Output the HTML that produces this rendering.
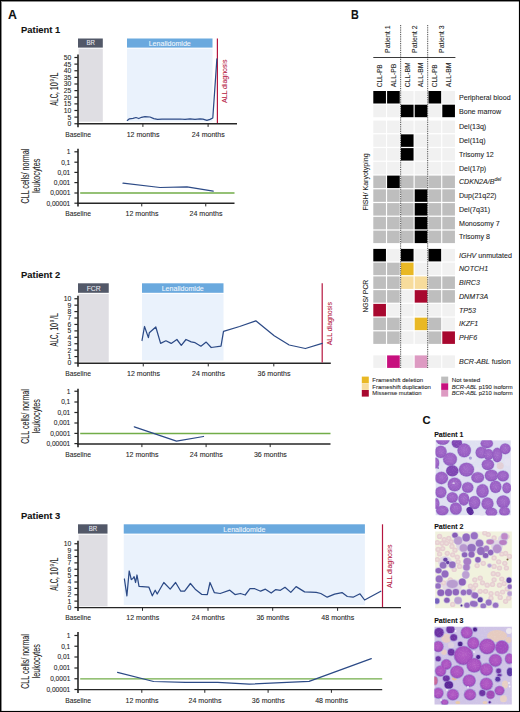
<!DOCTYPE html>
<html><head><meta charset="utf-8"><style>
html,body{margin:0;padding:0;background:#fff;}
body{width:520px;height:712px;overflow:hidden;position:relative;}
svg{font-family:"Liberation Sans", sans-serif;}
#main text{stroke:currentColor;stroke-width:0.08px;}
#main{position:absolute;left:0;top:0;}
.frame{position:absolute;left:0;top:0;width:518px;height:710px;border:1px solid #000;box-shadow:inset 1px 1px 0 rgba(0,0,0,0.45), inset -1px -1px 0 rgba(0,0,0,0.08);pointer-events:none;}
</style></head><body>
<svg id="main" width="520" height="712" viewBox="0 0 520 712" fill="#1e1e1e" color="#1e1e1e">
<text x="8.00" y="18.50" font-size="12.4" fill="#111" color="#111" font-weight="bold" textLength="8.9" lengthAdjust="spacingAndGlyphs">A</text>
<text x="21.10" y="33.10" font-size="9.9" fill="#111" color="#111" font-weight="bold" textLength="39.2" lengthAdjust="spacingAndGlyphs">Patient 1</text>
<rect x="78.00" y="38.50" width="24.80" height="9.10" fill="#525868" />
<text x="90.70" y="45.40" font-size="7" text-anchor="middle" fill="#e8e9f0" color="#e8e9f0" textLength="8.5" lengthAdjust="spacingAndGlyphs">BR</text>
<rect x="78.60" y="48.70" width="24.20" height="73.00" fill="#dfdee3" />
<rect x="127.00" y="38.50" width="85.50" height="9.10" fill="#6aa9de" />
<text x="169.75" y="45.50" font-size="6.9" text-anchor="middle" fill="#f2f7fd" color="#f2f7fd" textLength="42.1" lengthAdjust="spacingAndGlyphs">Lenalidomide</text>
<rect x="127.00" y="48.70" width="85.50" height="72.80" fill="#eaf2fc" />
<line x1="78.00" y1="54.50" x2="78.00" y2="127.20" stroke="#262626" stroke-width="1.6" />
<line x1="74.40" y1="57.50" x2="77.80" y2="57.50" stroke="#262626" stroke-width="1.2" />
<text x="71.30" y="59.90" font-size="6.8" text-anchor="end">50</text>
<line x1="74.40" y1="64.12" x2="77.80" y2="64.12" stroke="#262626" stroke-width="1.2" />
<text x="71.30" y="66.53" font-size="6.8" text-anchor="end">45</text>
<line x1="74.40" y1="70.75" x2="77.80" y2="70.75" stroke="#262626" stroke-width="1.2" />
<text x="71.30" y="73.15" font-size="6.8" text-anchor="end">40</text>
<line x1="74.40" y1="77.38" x2="77.80" y2="77.38" stroke="#262626" stroke-width="1.2" />
<text x="71.30" y="79.78" font-size="6.8" text-anchor="end">35</text>
<line x1="74.40" y1="84.00" x2="77.80" y2="84.00" stroke="#262626" stroke-width="1.2" />
<text x="71.30" y="86.40" font-size="6.8" text-anchor="end">30</text>
<line x1="74.40" y1="90.62" x2="77.80" y2="90.62" stroke="#262626" stroke-width="1.2" />
<text x="71.30" y="93.03" font-size="6.8" text-anchor="end">25</text>
<line x1="74.40" y1="97.25" x2="77.80" y2="97.25" stroke="#262626" stroke-width="1.2" />
<text x="71.30" y="99.65" font-size="6.8" text-anchor="end">20</text>
<line x1="74.40" y1="103.88" x2="77.80" y2="103.88" stroke="#262626" stroke-width="1.2" />
<text x="71.30" y="106.28" font-size="6.8" text-anchor="end">15</text>
<line x1="74.40" y1="110.50" x2="77.80" y2="110.50" stroke="#262626" stroke-width="1.2" />
<text x="71.30" y="112.90" font-size="6.8" text-anchor="end">10</text>
<line x1="74.40" y1="117.12" x2="77.80" y2="117.12" stroke="#262626" stroke-width="1.2" />
<text x="71.30" y="119.53" font-size="6.8" text-anchor="end">5</text>
<line x1="74.40" y1="123.75" x2="77.80" y2="123.75" stroke="#262626" stroke-width="1.2" />
<text x="71.30" y="126.15" font-size="6.8" text-anchor="end">0</text>
<line x1="77.10" y1="123.70" x2="237.00" y2="123.70" stroke="#262626" stroke-width="1.45" />
<line x1="142.90" y1="123.70" x2="142.90" y2="126.90" stroke="#262626" stroke-width="1.0" />
<line x1="208.10" y1="123.70" x2="208.10" y2="126.90" stroke="#262626" stroke-width="1.0" />
<text x="78.10" y="136.50" font-size="7" text-anchor="middle" textLength="25.7" lengthAdjust="spacingAndGlyphs">Baseline</text>
<text x="143.10" y="136.50" font-size="7" text-anchor="middle" textLength="32.9" lengthAdjust="spacingAndGlyphs">12 months</text>
<text x="208.30" y="136.50" font-size="7" text-anchor="middle" textLength="32.9" lengthAdjust="spacingAndGlyphs">24 months</text>
<g transform="translate(58 105.80) rotate(-90)"><text x="0" y="0" font-size="10" textLength="13.6" lengthAdjust="spacingAndGlyphs">ALC,</text><text x="15.6" y="0" font-size="10" textLength="7.8" lengthAdjust="spacingAndGlyphs">10</text><text x="24.2" y="-3.9" font-size="6" textLength="2.4" lengthAdjust="spacingAndGlyphs">9</text><text x="27.4" y="0" font-size="10" textLength="6.0" lengthAdjust="spacingAndGlyphs">/L</text></g>
<line x1="217.40" y1="38.50" x2="217.40" y2="123.10" stroke="#b5163f" stroke-width="1.2" />
<text x="227.10" y="103.00" font-size="7.4" fill="#b5163f" color="#b5163f" textLength="43.4" lengthAdjust="spacingAndGlyphs" transform="rotate(-90 227.10 103.00)">ALL diagnosis</text>
<polyline points="127.3,120.4 129.4,118.8 133.0,118.3 136.0,117.5 138.8,118.5 141.5,117.3 145.0,116.6 150.0,117.0 153.8,118.6 157.5,119.4 162.0,119.2 170.0,119.0 180.0,119.0 185.0,119.4 190.0,118.8 195.0,119.4 200.0,118.9 203.0,119.2 206.9,120.4 210.0,119.4 212.8,118.0 216.9,58.8" fill="none" stroke="#2c4a86" stroke-width="1.25" stroke-linejoin="round" stroke-linecap="round"/>
<line x1="78.00" y1="148.80" x2="78.00" y2="206.60" stroke="#262626" stroke-width="1.6" />
<line x1="74.40" y1="151.80" x2="78.00" y2="151.80" stroke="#262626" stroke-width="1.2" />
<text x="70.30" y="154.10" font-size="6.6" text-anchor="end">1</text>
<line x1="74.40" y1="162.20" x2="78.00" y2="162.20" stroke="#262626" stroke-width="1.2" />
<text x="70.30" y="164.50" font-size="6.6" text-anchor="end">0,1</text>
<line x1="74.40" y1="172.40" x2="78.00" y2="172.40" stroke="#262626" stroke-width="1.2" />
<text x="70.30" y="174.70" font-size="6.6" text-anchor="end">0,01</text>
<line x1="74.40" y1="182.60" x2="78.00" y2="182.60" stroke="#262626" stroke-width="1.2" />
<text x="70.30" y="184.90" font-size="6.6" text-anchor="end">0,001</text>
<line x1="74.40" y1="193.00" x2="78.00" y2="193.00" stroke="#262626" stroke-width="1.2" />
<text x="70.30" y="195.30" font-size="6.6" text-anchor="end">0,0001</text>
<line x1="74.40" y1="203.20" x2="78.00" y2="203.20" stroke="#262626" stroke-width="1.2" />
<text x="70.30" y="205.50" font-size="6.6" text-anchor="end">0,00001</text>
<line x1="80.20" y1="193.00" x2="234.50" y2="193.00" stroke="#72ad48" stroke-width="1.35" />
<line x1="77.10" y1="203.20" x2="234.50" y2="203.20" stroke="#262626" stroke-width="1.45" />
<line x1="141.75" y1="203.20" x2="141.75" y2="206.40" stroke="#262626" stroke-width="1.0" />
<text x="141.95" y="216.30" font-size="7" text-anchor="middle" textLength="32.9" lengthAdjust="spacingAndGlyphs">12 months</text>
<line x1="205.75" y1="203.20" x2="205.75" y2="206.40" stroke="#262626" stroke-width="1.0" />
<text x="205.95" y="216.30" font-size="7" text-anchor="middle" textLength="32.9" lengthAdjust="spacingAndGlyphs">24 months</text>
<text x="78.10" y="216.30" font-size="7" text-anchor="middle" textLength="25.7" lengthAdjust="spacingAndGlyphs">Baseline</text>
<text x="29.40" y="203.40" font-size="10" textLength="54.6" lengthAdjust="spacingAndGlyphs" transform="rotate(-90 29.40 203.40)">CLL cells/ normal</text>
<text x="40.30" y="193.00" font-size="10" textLength="34.3" lengthAdjust="spacingAndGlyphs" transform="rotate(-90 40.30 193.00)">leukocytes</text>
<polyline points="123.0,183.2 160.0,187.5 187.0,186.8 213.2,191.2" fill="none" stroke="#2c4a86" stroke-width="1.25" stroke-linejoin="round" stroke-linecap="round"/>
<text x="21.10" y="278.10" font-size="9.9" fill="#111" color="#111" font-weight="bold" textLength="39.2" lengthAdjust="spacingAndGlyphs">Patient 2</text>
<rect x="78.00" y="283.30" width="30.75" height="9.50" fill="#525868" />
<text x="93.67" y="290.60" font-size="7" text-anchor="middle" fill="#e8e9f0" color="#e8e9f0" textLength="14" lengthAdjust="spacingAndGlyphs">FCR</text>
<rect x="78.60" y="293.90" width="30.15" height="67.90" fill="#dfdee3" />
<rect x="142.00" y="283.30" width="81.50" height="9.50" fill="#6aa9de" />
<text x="182.75" y="290.70" font-size="6.9" text-anchor="middle" fill="#f2f7fd" color="#f2f7fd" textLength="42.1" lengthAdjust="spacingAndGlyphs">Lenalidomide</text>
<rect x="142.00" y="293.90" width="81.50" height="66.60" fill="#eaf2fc" />
<line x1="78.00" y1="295.75" x2="78.00" y2="366.70" stroke="#262626" stroke-width="1.6" />
<line x1="74.40" y1="298.75" x2="77.80" y2="298.75" stroke="#262626" stroke-width="1.2" />
<text x="71.30" y="301.15" font-size="6.8" text-anchor="end">10</text>
<line x1="74.40" y1="305.18" x2="77.80" y2="305.18" stroke="#262626" stroke-width="1.2" />
<text x="71.30" y="307.57" font-size="6.8" text-anchor="end">9</text>
<line x1="74.40" y1="311.60" x2="77.80" y2="311.60" stroke="#262626" stroke-width="1.2" />
<text x="71.30" y="314.00" font-size="6.8" text-anchor="end">8</text>
<line x1="74.40" y1="318.02" x2="77.80" y2="318.02" stroke="#262626" stroke-width="1.2" />
<text x="71.30" y="320.42" font-size="6.8" text-anchor="end">7</text>
<line x1="74.40" y1="324.45" x2="77.80" y2="324.45" stroke="#262626" stroke-width="1.2" />
<text x="71.30" y="326.85" font-size="6.8" text-anchor="end">6</text>
<line x1="74.40" y1="330.88" x2="77.80" y2="330.88" stroke="#262626" stroke-width="1.2" />
<text x="71.30" y="333.27" font-size="6.8" text-anchor="end">5</text>
<line x1="74.40" y1="337.30" x2="77.80" y2="337.30" stroke="#262626" stroke-width="1.2" />
<text x="71.30" y="339.70" font-size="6.8" text-anchor="end">4</text>
<line x1="74.40" y1="343.73" x2="77.80" y2="343.73" stroke="#262626" stroke-width="1.2" />
<text x="71.30" y="346.12" font-size="6.8" text-anchor="end">3</text>
<line x1="74.40" y1="350.15" x2="77.80" y2="350.15" stroke="#262626" stroke-width="1.2" />
<text x="71.30" y="352.55" font-size="6.8" text-anchor="end">2</text>
<line x1="74.40" y1="356.57" x2="77.80" y2="356.57" stroke="#262626" stroke-width="1.2" />
<text x="71.30" y="358.97" font-size="6.8" text-anchor="end">1</text>
<line x1="74.40" y1="363.00" x2="77.80" y2="363.00" stroke="#262626" stroke-width="1.2" />
<text x="71.30" y="365.40" font-size="6.8" text-anchor="end">0</text>
<line x1="77.10" y1="363.20" x2="330.80" y2="363.20" stroke="#262626" stroke-width="1.45" />
<line x1="143.25" y1="363.20" x2="143.25" y2="366.40" stroke="#262626" stroke-width="1.0" />
<line x1="208.25" y1="363.20" x2="208.25" y2="366.40" stroke="#262626" stroke-width="1.0" />
<line x1="273.80" y1="363.20" x2="273.80" y2="366.40" stroke="#262626" stroke-width="1.0" />
<text x="78.10" y="375.60" font-size="7" text-anchor="middle" textLength="25.7" lengthAdjust="spacingAndGlyphs">Baseline</text>
<text x="143.45" y="375.60" font-size="7" text-anchor="middle" textLength="32.9" lengthAdjust="spacingAndGlyphs">12 months</text>
<text x="208.45" y="375.60" font-size="7" text-anchor="middle" textLength="32.9" lengthAdjust="spacingAndGlyphs">24 months</text>
<text x="274.00" y="375.60" font-size="7" text-anchor="middle" textLength="32.9" lengthAdjust="spacingAndGlyphs">36 months</text>
<g transform="translate(58 346.40) rotate(-90)"><text x="0" y="0" font-size="10" textLength="13.6" lengthAdjust="spacingAndGlyphs">ALC,</text><text x="15.6" y="0" font-size="10" textLength="7.8" lengthAdjust="spacingAndGlyphs">10</text><text x="24.2" y="-3.9" font-size="6" textLength="2.4" lengthAdjust="spacingAndGlyphs">9</text><text x="27.4" y="0" font-size="10" textLength="6.0" lengthAdjust="spacingAndGlyphs">/L</text></g>
<line x1="322.20" y1="283.30" x2="322.20" y2="362.60" stroke="#b5163f" stroke-width="1.2" />
<text x="331.90" y="345.30" font-size="7.4" fill="#b5163f" color="#b5163f" textLength="43.4" lengthAdjust="spacingAndGlyphs" transform="rotate(-90 331.90 345.30)">ALL diagnosis</text>
<polyline points="142.0,340.5 144.5,326.5 148.4,337.6 149.3,332.8 155.8,327.0 160.6,343.4 165.9,340.8 171.2,343.4 176.9,339.5 181.3,345.3 186.0,339.5 191.2,341.9 195.1,342.7 200.9,346.2 206.2,342.1 211.2,347.5 221.0,346.2 223.5,331.3 239.6,326.5 255.8,320.8 274.2,335.8 289.2,345.0 305.4,348.5 322.2,343.4" fill="none" stroke="#2c4a86" stroke-width="1.25" stroke-linejoin="round" stroke-linecap="round"/>
<line x1="78.00" y1="388.75" x2="78.00" y2="447.30" stroke="#262626" stroke-width="1.6" />
<line x1="74.40" y1="391.25" x2="78.00" y2="391.25" stroke="#262626" stroke-width="1.2" />
<text x="70.30" y="393.55" font-size="6.6" text-anchor="end">1</text>
<line x1="74.40" y1="402.00" x2="78.00" y2="402.00" stroke="#262626" stroke-width="1.2" />
<text x="70.30" y="404.30" font-size="6.6" text-anchor="end">0,1</text>
<line x1="74.40" y1="412.50" x2="78.00" y2="412.50" stroke="#262626" stroke-width="1.2" />
<text x="70.30" y="414.80" font-size="6.6" text-anchor="end">0,01</text>
<line x1="74.40" y1="423.00" x2="78.00" y2="423.00" stroke="#262626" stroke-width="1.2" />
<text x="70.30" y="425.30" font-size="6.6" text-anchor="end">0,001</text>
<line x1="74.40" y1="433.40" x2="78.00" y2="433.40" stroke="#262626" stroke-width="1.2" />
<text x="70.30" y="435.70" font-size="6.6" text-anchor="end">0,0001</text>
<line x1="74.40" y1="443.60" x2="78.00" y2="443.60" stroke="#262626" stroke-width="1.2" />
<text x="70.30" y="445.90" font-size="6.6" text-anchor="end">0,00001</text>
<line x1="80.20" y1="433.50" x2="330.50" y2="433.50" stroke="#72ad48" stroke-width="1.35" />
<line x1="77.10" y1="443.90" x2="330.50" y2="443.90" stroke="#262626" stroke-width="1.45" />
<line x1="141.90" y1="443.90" x2="141.90" y2="447.10" stroke="#262626" stroke-width="1.0" />
<text x="142.10" y="456.50" font-size="7" text-anchor="middle" textLength="32.9" lengthAdjust="spacingAndGlyphs">12 months</text>
<line x1="206.10" y1="443.90" x2="206.10" y2="447.10" stroke="#262626" stroke-width="1.0" />
<text x="206.30" y="456.50" font-size="7" text-anchor="middle" textLength="32.9" lengthAdjust="spacingAndGlyphs">24 months</text>
<line x1="270.20" y1="443.90" x2="270.20" y2="447.10" stroke="#262626" stroke-width="1.0" />
<text x="270.40" y="456.50" font-size="7" text-anchor="middle" textLength="32.9" lengthAdjust="spacingAndGlyphs">36 months</text>
<text x="78.10" y="456.50" font-size="7" text-anchor="middle" textLength="25.7" lengthAdjust="spacingAndGlyphs">Baseline</text>
<text x="29.40" y="443.75" font-size="10" textLength="54.6" lengthAdjust="spacingAndGlyphs" transform="rotate(-90 29.40 443.75)">CLL cells/ normal</text>
<text x="40.30" y="433.35" font-size="10" textLength="34.3" lengthAdjust="spacingAndGlyphs" transform="rotate(-90 40.30 433.35)">leukocytes</text>
<polyline points="134.3,426.8 176.5,441.2 203.5,436.5" fill="none" stroke="#2c4a86" stroke-width="1.25" stroke-linejoin="round" stroke-linecap="round"/>
<text x="21.10" y="518.60" font-size="9.9" fill="#111" color="#111" font-weight="bold" textLength="39.2" lengthAdjust="spacingAndGlyphs">Patient 3</text>
<rect x="78.00" y="524.30" width="29.50" height="9.30" fill="#525868" />
<text x="93.05" y="531.40" font-size="7" text-anchor="middle" fill="#e8e9f0" color="#e8e9f0" textLength="8.5" lengthAdjust="spacingAndGlyphs">BR</text>
<rect x="78.60" y="534.70" width="28.90" height="71.60" fill="#dfdee3" />
<rect x="123.75" y="524.30" width="241.15" height="9.30" fill="#6aa9de" />
<text x="244.32" y="531.50" font-size="6.9" text-anchor="middle" fill="#f2f7fd" color="#f2f7fd" textLength="42.1" lengthAdjust="spacingAndGlyphs">Lenalidomide</text>
<rect x="123.75" y="534.70" width="241.15" height="70.30" fill="#eaf2fc" />
<line x1="78.00" y1="540.75" x2="78.00" y2="611.10" stroke="#262626" stroke-width="1.6" />
<line x1="74.40" y1="543.75" x2="77.80" y2="543.75" stroke="#262626" stroke-width="1.2" />
<text x="71.30" y="546.15" font-size="6.8" text-anchor="end">10</text>
<line x1="74.40" y1="550.12" x2="77.80" y2="550.12" stroke="#262626" stroke-width="1.2" />
<text x="71.30" y="552.52" font-size="6.8" text-anchor="end">9</text>
<line x1="74.40" y1="556.50" x2="77.80" y2="556.50" stroke="#262626" stroke-width="1.2" />
<text x="71.30" y="558.90" font-size="6.8" text-anchor="end">8</text>
<line x1="74.40" y1="562.88" x2="77.80" y2="562.88" stroke="#262626" stroke-width="1.2" />
<text x="71.30" y="565.27" font-size="6.8" text-anchor="end">7</text>
<line x1="74.40" y1="569.25" x2="77.80" y2="569.25" stroke="#262626" stroke-width="1.2" />
<text x="71.30" y="571.65" font-size="6.8" text-anchor="end">6</text>
<line x1="74.40" y1="575.62" x2="77.80" y2="575.62" stroke="#262626" stroke-width="1.2" />
<text x="71.30" y="578.02" font-size="6.8" text-anchor="end">5</text>
<line x1="74.40" y1="582.00" x2="77.80" y2="582.00" stroke="#262626" stroke-width="1.2" />
<text x="71.30" y="584.40" font-size="6.8" text-anchor="end">4</text>
<line x1="74.40" y1="588.38" x2="77.80" y2="588.38" stroke="#262626" stroke-width="1.2" />
<text x="71.30" y="590.77" font-size="6.8" text-anchor="end">3</text>
<line x1="74.40" y1="594.75" x2="77.80" y2="594.75" stroke="#262626" stroke-width="1.2" />
<text x="71.30" y="597.15" font-size="6.8" text-anchor="end">2</text>
<line x1="74.40" y1="601.12" x2="77.80" y2="601.12" stroke="#262626" stroke-width="1.2" />
<text x="71.30" y="603.52" font-size="6.8" text-anchor="end">1</text>
<line x1="74.40" y1="607.50" x2="77.80" y2="607.50" stroke="#262626" stroke-width="1.2" />
<text x="71.30" y="609.90" font-size="6.8" text-anchor="end">0</text>
<line x1="77.10" y1="607.60" x2="401.00" y2="607.60" stroke="#262626" stroke-width="1.45" />
<line x1="142.50" y1="607.60" x2="142.50" y2="610.80" stroke="#262626" stroke-width="1.0" />
<line x1="208.00" y1="607.60" x2="208.00" y2="610.80" stroke="#262626" stroke-width="1.0" />
<line x1="272.70" y1="607.60" x2="272.70" y2="610.80" stroke="#262626" stroke-width="1.0" />
<line x1="337.60" y1="607.60" x2="337.60" y2="610.80" stroke="#262626" stroke-width="1.0" />
<text x="78.10" y="620.00" font-size="7" text-anchor="middle" textLength="25.7" lengthAdjust="spacingAndGlyphs">Baseline</text>
<text x="142.70" y="620.00" font-size="7" text-anchor="middle" textLength="32.9" lengthAdjust="spacingAndGlyphs">12 months</text>
<text x="208.20" y="620.00" font-size="7" text-anchor="middle" textLength="32.9" lengthAdjust="spacingAndGlyphs">24 months</text>
<text x="272.90" y="620.00" font-size="7" text-anchor="middle" textLength="32.9" lengthAdjust="spacingAndGlyphs">36 months</text>
<text x="337.80" y="620.00" font-size="7" text-anchor="middle" textLength="32.9" lengthAdjust="spacingAndGlyphs">48 months</text>
<g transform="translate(58 590.80) rotate(-90)"><text x="0" y="0" font-size="10" textLength="13.6" lengthAdjust="spacingAndGlyphs">ALC,</text><text x="15.6" y="0" font-size="10" textLength="7.8" lengthAdjust="spacingAndGlyphs">10</text><text x="24.2" y="-3.9" font-size="6" textLength="2.4" lengthAdjust="spacingAndGlyphs">9</text><text x="27.4" y="0" font-size="10" textLength="6.0" lengthAdjust="spacingAndGlyphs">/L</text></g>
<line x1="382.50" y1="524.30" x2="382.50" y2="607.00" stroke="#b5163f" stroke-width="1.2" />
<text x="392.20" y="588.00" font-size="7.4" fill="#b5163f" color="#b5163f" textLength="43.4" lengthAdjust="spacingAndGlyphs" transform="rotate(-90 392.20 588.00)">ALL diagnosis</text>
<polyline points="124.4,579.0 126.9,595.8 129.2,571.0 131.3,579.6 132.9,578.5 134.1,576.7 135.6,582.5 137.0,575.0 139.0,586.3 148.8,587.1 152.3,595.8 155.2,590.2 157.2,594.0 163.8,582.5 170.2,589.1 175.6,582.5 180.8,591.2 184.6,591.2 190.4,583.5 195.2,589.2 201.9,594.4 207.3,594.6 210.0,582.5 214.4,592.7 220.2,593.5 229.8,590.2 235.0,594.6 240.4,593.5 245.2,595.0 250.0,588.7 254.8,588.7 260.6,591.2 265.4,589.2 271.2,593.1 275.8,589.6 280.4,590.3 285.0,587.3 290.8,592.4 296.1,586.6 304.6,591.9 316.2,592.4 320.8,593.5 327.2,597.2 334.6,594.2 342.0,592.6 347.3,596.5 353.1,597.2 360.0,593.8 364.6,600.0 380.8,591.2" fill="none" stroke="#2c4a86" stroke-width="1.25" stroke-linejoin="round" stroke-linecap="round"/>
<line x1="78.00" y1="632.00" x2="78.00" y2="693.00" stroke="#262626" stroke-width="1.6" />
<line x1="74.40" y1="635.50" x2="78.00" y2="635.50" stroke="#262626" stroke-width="1.2" />
<text x="70.30" y="637.80" font-size="6.6" text-anchor="end">1</text>
<line x1="74.40" y1="646.25" x2="78.00" y2="646.25" stroke="#262626" stroke-width="1.2" />
<text x="70.30" y="648.55" font-size="6.6" text-anchor="end">0,1</text>
<line x1="74.40" y1="657.00" x2="78.00" y2="657.00" stroke="#262626" stroke-width="1.2" />
<text x="70.30" y="659.30" font-size="6.6" text-anchor="end">0,01</text>
<line x1="74.40" y1="668.00" x2="78.00" y2="668.00" stroke="#262626" stroke-width="1.2" />
<text x="70.30" y="670.30" font-size="6.6" text-anchor="end">0,001</text>
<line x1="74.40" y1="678.75" x2="78.00" y2="678.75" stroke="#262626" stroke-width="1.2" />
<text x="70.30" y="681.05" font-size="6.6" text-anchor="end">0,0001</text>
<line x1="74.40" y1="689.50" x2="78.00" y2="689.50" stroke="#262626" stroke-width="1.2" />
<text x="70.30" y="691.80" font-size="6.6" text-anchor="end">0,00001</text>
<line x1="80.20" y1="678.80" x2="382.20" y2="678.80" stroke="#72ad48" stroke-width="1.35" />
<line x1="77.10" y1="689.60" x2="382.20" y2="689.60" stroke="#262626" stroke-width="1.45" />
<line x1="141.80" y1="689.60" x2="141.80" y2="692.80" stroke="#262626" stroke-width="1.0" />
<text x="142.00" y="702.50" font-size="7" text-anchor="middle" textLength="32.9" lengthAdjust="spacingAndGlyphs">12 months</text>
<line x1="204.80" y1="689.60" x2="204.80" y2="692.80" stroke="#262626" stroke-width="1.0" />
<text x="205.00" y="702.50" font-size="7" text-anchor="middle" textLength="32.9" lengthAdjust="spacingAndGlyphs">24 months</text>
<line x1="268.10" y1="689.60" x2="268.10" y2="692.80" stroke="#262626" stroke-width="1.0" />
<text x="268.30" y="702.50" font-size="7" text-anchor="middle" textLength="32.9" lengthAdjust="spacingAndGlyphs">36 months</text>
<line x1="331.40" y1="689.60" x2="331.40" y2="692.80" stroke="#262626" stroke-width="1.0" />
<text x="331.60" y="702.50" font-size="7" text-anchor="middle" textLength="32.9" lengthAdjust="spacingAndGlyphs">48 months</text>
<text x="78.10" y="702.50" font-size="7" text-anchor="middle" textLength="25.7" lengthAdjust="spacingAndGlyphs">Baseline</text>
<text x="29.40" y="688.75" font-size="10" textLength="54.6" lengthAdjust="spacingAndGlyphs" transform="rotate(-90 29.40 688.75)">CLL cells/ normal</text>
<text x="40.30" y="678.35" font-size="10" textLength="34.3" lengthAdjust="spacingAndGlyphs" transform="rotate(-90 40.30 678.35)">leukocytes</text>
<polyline points="117.5,672.3 153.6,681.5 185.4,682.3 217.7,682.3 249.2,684.2 309.1,681.3 371.3,658.7" fill="none" stroke="#2c4a86" stroke-width="1.25" stroke-linejoin="round" stroke-linecap="round"/>
<text x="351.10" y="18.50" font-size="12.4" fill="#111" color="#111" font-weight="bold" textLength="7.8" lengthAdjust="spacingAndGlyphs">B</text>
<text x="389.80" y="52.90" font-size="7.5" textLength="27.4" lengthAdjust="spacingAndGlyphs" transform="rotate(-90 389.80 52.90)">Patient 1</text>
<text x="416.90" y="52.90" font-size="7.5" textLength="27.4" lengthAdjust="spacingAndGlyphs" transform="rotate(-90 416.90 52.90)">Patient 2</text>
<text x="444.00" y="52.90" font-size="7.5" textLength="27.4" lengthAdjust="spacingAndGlyphs" transform="rotate(-90 444.00 52.90)">Patient 3</text>
<line x1="373.30" y1="57.50" x2="455.40" y2="57.50" stroke="#3a3a3a" stroke-width="1.1" />
<text x="382.00" y="87.20" font-size="7.0" textLength="22.8" lengthAdjust="spacingAndGlyphs" transform="rotate(-90 382.00 87.20)">CLL-PB</text>
<text x="395.80" y="87.20" font-size="7.0" textLength="23.6" lengthAdjust="spacingAndGlyphs" transform="rotate(-90 395.80 87.20)">ALL-PB</text>
<text x="409.60" y="87.20" font-size="7.0" textLength="24.8" lengthAdjust="spacingAndGlyphs" transform="rotate(-90 409.60 87.20)">CLL-BM</text>
<text x="423.40" y="87.20" font-size="7.0" textLength="24.8" lengthAdjust="spacingAndGlyphs" transform="rotate(-90 423.40 87.20)">ALL-BM</text>
<text x="437.20" y="87.20" font-size="7.0" textLength="22.8" lengthAdjust="spacingAndGlyphs" transform="rotate(-90 437.20 87.20)">CLL-PB</text>
<text x="451.00" y="87.20" font-size="7.0" textLength="24.8" lengthAdjust="spacingAndGlyphs" transform="rotate(-90 451.00 87.20)">ALL-BM</text>
<rect x="373.30" y="91.00" width="12.65" height="12.50" fill="#000" />
<rect x="387.10" y="91.00" width="12.65" height="12.50" fill="#000" />
<rect x="400.90" y="91.00" width="12.65" height="12.50" fill="#f1f1f1" />
<rect x="414.70" y="91.00" width="12.65" height="12.50" fill="#f1f1f1" />
<rect x="428.50" y="91.00" width="12.65" height="12.50" fill="#000" />
<rect x="442.30" y="91.00" width="12.65" height="12.50" fill="#f1f1f1" />
<text x="459" y="99.80" font-size="7.1">Peripheral blood</text>
<rect x="373.30" y="104.70" width="12.65" height="12.50" fill="#f1f1f1" />
<rect x="387.10" y="104.70" width="12.65" height="12.50" fill="#f1f1f1" />
<rect x="400.90" y="104.70" width="12.65" height="12.50" fill="#000" />
<rect x="414.70" y="104.70" width="12.65" height="12.50" fill="#000" />
<rect x="428.50" y="104.70" width="12.65" height="12.50" fill="#f1f1f1" />
<rect x="442.30" y="104.70" width="12.65" height="12.50" fill="#000" />
<text x="459" y="113.50" font-size="7.1">Bone marrow</text>
<rect x="373.30" y="120.60" width="12.65" height="12.50" fill="#f1f1f1" />
<rect x="387.10" y="120.60" width="12.65" height="12.50" fill="#f1f1f1" />
<rect x="400.90" y="120.60" width="12.65" height="12.50" fill="#f1f1f1" />
<rect x="414.70" y="120.60" width="12.65" height="12.50" fill="#f1f1f1" />
<rect x="428.50" y="120.60" width="12.65" height="12.50" fill="#f1f1f1" />
<rect x="442.30" y="120.60" width="12.65" height="12.50" fill="#f1f1f1" />
<text x="459" y="129.40" font-size="7.1">Del(13q)</text>
<rect x="373.30" y="134.35" width="12.65" height="12.50" fill="#f1f1f1" />
<rect x="387.10" y="134.35" width="12.65" height="12.50" fill="#f1f1f1" />
<rect x="400.90" y="134.35" width="12.65" height="12.50" fill="#000" />
<rect x="414.70" y="134.35" width="12.65" height="12.50" fill="#f1f1f1" />
<rect x="428.50" y="134.35" width="12.65" height="12.50" fill="#f1f1f1" />
<rect x="442.30" y="134.35" width="12.65" height="12.50" fill="#f1f1f1" />
<text x="459" y="143.15" font-size="7.1">Del(11q)</text>
<rect x="373.30" y="148.10" width="12.65" height="12.50" fill="#f1f1f1" />
<rect x="387.10" y="148.10" width="12.65" height="12.50" fill="#f1f1f1" />
<rect x="400.90" y="148.10" width="12.65" height="12.50" fill="#000" />
<rect x="414.70" y="148.10" width="12.65" height="12.50" fill="#f1f1f1" />
<rect x="428.50" y="148.10" width="12.65" height="12.50" fill="#f1f1f1" />
<rect x="442.30" y="148.10" width="12.65" height="12.50" fill="#f1f1f1" />
<text x="459" y="156.90" font-size="7.1">Trisomy 12</text>
<rect x="373.30" y="161.85" width="12.65" height="12.50" fill="#f1f1f1" />
<rect x="387.10" y="161.85" width="12.65" height="12.50" fill="#f1f1f1" />
<rect x="400.90" y="161.85" width="12.65" height="12.50" fill="#f1f1f1" />
<rect x="414.70" y="161.85" width="12.65" height="12.50" fill="#f1f1f1" />
<rect x="428.50" y="161.85" width="12.65" height="12.50" fill="#f1f1f1" />
<rect x="442.30" y="161.85" width="12.65" height="12.50" fill="#f1f1f1" />
<text x="459" y="170.65" font-size="7.1">Del(17p)</text>
<rect x="373.30" y="175.60" width="12.65" height="12.50" fill="#bebebe" />
<rect x="387.10" y="175.60" width="12.65" height="12.50" fill="#000" />
<rect x="400.90" y="175.60" width="12.65" height="12.50" fill="#bebebe" />
<rect x="414.70" y="175.60" width="12.65" height="12.50" fill="#bebebe" />
<rect x="428.50" y="175.60" width="12.65" height="12.50" fill="#bebebe" />
<rect x="442.30" y="175.60" width="12.65" height="12.50" fill="#bebebe" />
<text x="459" y="184.40" font-size="7.1"><tspan font-style="italic">CDKN2A/B</tspan><tspan font-size="5" dy="-3.6" font-style="italic">del</tspan></text>
<rect x="373.30" y="189.35" width="12.65" height="12.50" fill="#bebebe" />
<rect x="387.10" y="189.35" width="12.65" height="12.50" fill="#bebebe" />
<rect x="400.90" y="189.35" width="12.65" height="12.50" fill="#bebebe" />
<rect x="414.70" y="189.35" width="12.65" height="12.50" fill="#000" />
<rect x="428.50" y="189.35" width="12.65" height="12.50" fill="#bebebe" />
<rect x="442.30" y="189.35" width="12.65" height="12.50" fill="#bebebe" />
<text x="459" y="198.15" font-size="7.1">Dup(21q22)</text>
<rect x="373.30" y="203.10" width="12.65" height="12.50" fill="#bebebe" />
<rect x="387.10" y="203.10" width="12.65" height="12.50" fill="#bebebe" />
<rect x="400.90" y="203.10" width="12.65" height="12.50" fill="#bebebe" />
<rect x="414.70" y="203.10" width="12.65" height="12.50" fill="#000" />
<rect x="428.50" y="203.10" width="12.65" height="12.50" fill="#bebebe" />
<rect x="442.30" y="203.10" width="12.65" height="12.50" fill="#bebebe" />
<text x="459" y="211.90" font-size="7.1">Del(7q31)</text>
<rect x="373.30" y="216.85" width="12.65" height="12.50" fill="#bebebe" />
<rect x="387.10" y="216.85" width="12.65" height="12.50" fill="#bebebe" />
<rect x="400.90" y="216.85" width="12.65" height="12.50" fill="#bebebe" />
<rect x="414.70" y="216.85" width="12.65" height="12.50" fill="#000" />
<rect x="428.50" y="216.85" width="12.65" height="12.50" fill="#bebebe" />
<rect x="442.30" y="216.85" width="12.65" height="12.50" fill="#bebebe" />
<text x="459" y="225.65" font-size="7.1">Monosomy 7</text>
<rect x="373.30" y="230.60" width="12.65" height="12.50" fill="#bebebe" />
<rect x="387.10" y="230.60" width="12.65" height="12.50" fill="#bebebe" />
<rect x="400.90" y="230.60" width="12.65" height="12.50" fill="#bebebe" />
<rect x="414.70" y="230.60" width="12.65" height="12.50" fill="#000" />
<rect x="428.50" y="230.60" width="12.65" height="12.50" fill="#bebebe" />
<rect x="442.30" y="230.60" width="12.65" height="12.50" fill="#bebebe" />
<text x="459" y="239.40" font-size="7.1">Trisomy 8</text>
<rect x="373.30" y="248.90" width="12.65" height="12.50" fill="#000" />
<rect x="387.10" y="248.90" width="12.65" height="12.50" fill="#f1f1f1" />
<rect x="400.90" y="248.90" width="12.65" height="12.50" fill="#000" />
<rect x="414.70" y="248.90" width="12.65" height="12.50" fill="#f1f1f1" />
<rect x="428.50" y="248.90" width="12.65" height="12.50" fill="#000" />
<rect x="442.30" y="248.90" width="12.65" height="12.50" fill="#f1f1f1" />
<text x="459" y="257.70" font-size="7.1"><tspan font-style="italic">IGHV</tspan> unmutated</text>
<rect x="373.30" y="262.65" width="12.65" height="12.50" fill="#bebebe" />
<rect x="387.10" y="262.65" width="12.65" height="12.50" fill="#bebebe" />
<rect x="400.90" y="262.65" width="12.65" height="12.50" fill="#e9b824" />
<rect x="414.70" y="262.65" width="12.65" height="12.50" fill="#f1f1f1" />
<rect x="428.50" y="262.65" width="12.65" height="12.50" fill="#f1f1f1" />
<rect x="442.30" y="262.65" width="12.65" height="12.50" fill="#f1f1f1" />
<text x="459" y="271.45" font-size="7.1"><tspan font-style="italic">NOTCH1</tspan></text>
<rect x="373.30" y="276.40" width="12.65" height="12.50" fill="#bebebe" />
<rect x="387.10" y="276.40" width="12.65" height="12.50" fill="#bebebe" />
<rect x="400.90" y="276.40" width="12.65" height="12.50" fill="#f7dc9c" />
<rect x="414.70" y="276.40" width="12.65" height="12.50" fill="#f7dc9c" />
<rect x="428.50" y="276.40" width="12.65" height="12.50" fill="#bebebe" />
<rect x="442.30" y="276.40" width="12.65" height="12.50" fill="#bebebe" />
<text x="459" y="285.20" font-size="7.1"><tspan font-style="italic">BIRC3</tspan></text>
<rect x="373.30" y="290.15" width="12.65" height="12.50" fill="#bebebe" />
<rect x="387.10" y="290.15" width="12.65" height="12.50" fill="#bebebe" />
<rect x="400.90" y="290.15" width="12.65" height="12.50" fill="#f1f1f1" />
<rect x="414.70" y="290.15" width="12.65" height="12.50" fill="#a8082f" />
<rect x="428.50" y="290.15" width="12.65" height="12.50" fill="#bebebe" />
<rect x="442.30" y="290.15" width="12.65" height="12.50" fill="#bebebe" />
<text x="459" y="298.95" font-size="7.1"><tspan font-style="italic">DNMT3A</tspan></text>
<rect x="373.30" y="303.90" width="12.65" height="12.50" fill="#a8082f" />
<rect x="387.10" y="303.90" width="12.65" height="12.50" fill="#f1f1f1" />
<rect x="400.90" y="303.90" width="12.65" height="12.50" fill="#f1f1f1" />
<rect x="414.70" y="303.90" width="12.65" height="12.50" fill="#f1f1f1" />
<rect x="428.50" y="303.90" width="12.65" height="12.50" fill="#f1f1f1" />
<rect x="442.30" y="303.90" width="12.65" height="12.50" fill="#f1f1f1" />
<text x="459" y="312.70" font-size="7.1"><tspan font-style="italic">TP53</tspan></text>
<rect x="373.30" y="317.65" width="12.65" height="12.50" fill="#bebebe" />
<rect x="387.10" y="317.65" width="12.65" height="12.50" fill="#bebebe" />
<rect x="400.90" y="317.65" width="12.65" height="12.50" fill="#f1f1f1" />
<rect x="414.70" y="317.65" width="12.65" height="12.50" fill="#e9b824" />
<rect x="428.50" y="317.65" width="12.65" height="12.50" fill="#bebebe" />
<rect x="442.30" y="317.65" width="12.65" height="12.50" fill="#f1f1f1" />
<text x="459" y="326.45" font-size="7.1"><tspan font-style="italic">IKZF1</tspan></text>
<rect x="373.30" y="331.40" width="12.65" height="12.50" fill="#bebebe" />
<rect x="387.10" y="331.40" width="12.65" height="12.50" fill="#bebebe" />
<rect x="400.90" y="331.40" width="12.65" height="12.50" fill="#f1f1f1" />
<rect x="414.70" y="331.40" width="12.65" height="12.50" fill="#f1f1f1" />
<rect x="428.50" y="331.40" width="12.65" height="12.50" fill="#bebebe" />
<rect x="442.30" y="331.40" width="12.65" height="12.50" fill="#a8082f" />
<text x="459" y="340.20" font-size="7.1"><tspan font-style="italic">PHF6</tspan></text>
<rect x="373.30" y="355.40" width="12.65" height="12.50" fill="#f1f1f1" />
<rect x="387.10" y="355.40" width="12.65" height="12.50" fill="#c70f7e" />
<rect x="400.90" y="355.40" width="12.65" height="12.50" fill="#f1f1f1" />
<rect x="414.70" y="355.40" width="12.65" height="12.50" fill="#dd9ac2" />
<rect x="428.50" y="355.40" width="12.65" height="12.50" fill="#f1f1f1" />
<rect x="442.30" y="355.40" width="12.65" height="12.50" fill="#f1f1f1" />
<text x="459" y="364.20" font-size="7.1"><tspan font-style="italic">BCR-ABL</tspan> fusion</text>
<line x1="400.65" y1="25.00" x2="400.65" y2="368.30" stroke="#222" stroke-width="0.9" stroke-dasharray="0.9 0.9"/>
<line x1="427.70" y1="25.00" x2="427.70" y2="368.30" stroke="#222" stroke-width="0.9" stroke-dasharray="0.9 0.9"/>
<text x="368.30" y="210.40" font-size="7" textLength="57" lengthAdjust="spacingAndGlyphs" transform="rotate(-90 368.30 210.40)">FISH/ Karyotyping</text>
<text x="368.30" y="312.60" font-size="7" textLength="32.8" lengthAdjust="spacingAndGlyphs" transform="rotate(-90 368.30 312.60)">NGS/ PCR</text>
<rect x="361.80" y="376.60" width="7.00" height="6.60" fill="#e9b824" />
<text x="372.30" y="382.00" font-size="6.2" textLength="50.8" lengthAdjust="spacingAndGlyphs">Frameshift deletion</text>
<rect x="361.80" y="383.30" width="7.00" height="6.60" fill="#f7dc9c" />
<text x="372.30" y="388.70" font-size="6.2" textLength="58.5" lengthAdjust="spacingAndGlyphs">Frameshift duplication</text>
<rect x="361.80" y="390.00" width="7.00" height="6.60" fill="#a8082f" />
<text x="372.30" y="395.40" font-size="6.2" textLength="49.2" lengthAdjust="spacingAndGlyphs">Missense mutation</text>
<rect x="441.20" y="376.60" width="7.00" height="6.60" fill="#bebebe" />
<text x="451.70" y="382.00" font-size="6.2" textLength="28.7" lengthAdjust="spacingAndGlyphs">Not tested</text>
<rect x="441.20" y="383.30" width="7.00" height="6.60" fill="#c70f7e" />
<text x="451.70" y="388.70" font-size="6.2" textLength="61" lengthAdjust="spacingAndGlyphs"><tspan font-style="italic">BCR-ABL</tspan> p190 isoform</text>
<rect x="441.20" y="390.00" width="7.00" height="6.60" fill="#dd9ac2" />
<text x="451.70" y="395.40" font-size="6.2" textLength="61" lengthAdjust="spacingAndGlyphs"><tspan font-style="italic">BCR-ABL</tspan> p210 isoform</text>
<text x="422.60" y="424.20" font-size="11.8" fill="#111" color="#111" font-weight="bold" textLength="8.1" lengthAdjust="spacingAndGlyphs">C</text>
<text x="434.20" y="436.90" font-size="6.9" fill="#111" color="#111" font-weight="bold" textLength="29.3" lengthAdjust="spacingAndGlyphs">Patient 1</text>
<svg x="435.4" y="440.2" width="75.5" height="75.2" viewBox="435.4 440.2 75.5 75.2" preserveAspectRatio="none" overflow="hidden"><defs><radialGradient id="g1m" cx="50%" cy="45%" r="55%"><stop offset="0" stop-color="#a46ccb"/><stop offset="0.7" stop-color="#9a60c4"/><stop offset="1" stop-color="#8a56bc"/></radialGradient><radialGradient id="g1d" cx="50%" cy="50%" r="55%"><stop offset="0" stop-color="#8448b6"/><stop offset="1" stop-color="#7a42b0"/></radialGradient><radialGradient id="g1l" cx="50%" cy="45%" r="55%"><stop offset="0" stop-color="#b08ad4"/><stop offset="1" stop-color="#9c6cc6"/></radialGradient><filter id="b1" x="-5%" y="-5%" width="110%" height="110%"><feGaussianBlur stdDeviation="0.45"/></filter></defs><rect x="435.4" y="440.2" width="75.5" height="75.2" fill="#dfe0f1"/><g filter="url(#b1)"><ellipse cx="471" cy="458" rx="5" ry="5" fill="#e4e2f2" /><ellipse cx="447" cy="467" rx="4" ry="4" fill="#e4e2f2" /><ellipse cx="477" cy="470" rx="3" ry="3" fill="#e4e2f2" /><ellipse cx="460" cy="478" rx="3" ry="3" fill="#e4e2f2" /><ellipse cx="449" cy="490" rx="3" ry="3" fill="#e4e2f2" /><ellipse cx="470" cy="494" rx="3" ry="3" fill="#e4e2f2" /><ellipse cx="482" cy="513" rx="3" ry="3" fill="#e4e2f2" /><ellipse cx="498" cy="467" rx="4" ry="4" fill="#e4e2f2" /><ellipse cx="508" cy="462" rx="4" ry="4" fill="#e4e2f2" /><ellipse cx="462" cy="505" rx="3" ry="3" fill="#e4e2f2" /><ellipse cx="442.7" cy="439.5" rx="7.4" ry="5.7" fill="#c0bce6" /><ellipse cx="456.9" cy="443.1" rx="5.7" ry="5.4" fill="#c0bce6" /><ellipse cx="440.8" cy="451.9" rx="6.4" ry="6.7" fill="#c0bce6" /><ellipse cx="464.2" cy="450.4" rx="7.2" ry="7.4" fill="#c0bce6" /><ellipse cx="450" cy="459.2" rx="7.4" ry="7.1000000000000005" fill="#c0bce6" /><ellipse cx="435.8" cy="463" rx="3.9" ry="5.9" fill="#c0bce6" /><ellipse cx="452.3" cy="470.8" rx="6.7" ry="6.1000000000000005" fill="#c0bce6" /><ellipse cx="466.5" cy="469.6" rx="8.1" ry="7.4" fill="#c0bce6" /><ellipse cx="441.5" cy="478" rx="7.1000000000000005" ry="6.7" fill="#c0bce6" /><ellipse cx="486.8" cy="443.5" rx="6.7" ry="5.300000000000001" fill="#c0bce6" /><ellipse cx="481.5" cy="452.5" rx="6.4" ry="6.4" fill="#c0bce6" /><ellipse cx="488.5" cy="454.5" rx="5.4" ry="6.1000000000000005" fill="#c0bce6" /><ellipse cx="497.2" cy="455" rx="5.5" ry="7.800000000000001" fill="#c0bce6" /><ellipse cx="505.2" cy="448.8" rx="5.9" ry="5.9" fill="#c0bce6" /><ellipse cx="487.9" cy="464.6" rx="6.7" ry="5.9" fill="#c0bce6" /><ellipse cx="477.7" cy="477.5" rx="6.9" ry="5.9" fill="#c0bce6" /><ellipse cx="491.4" cy="475.5" rx="7.1000000000000005" ry="6.4" fill="#c0bce6" /><ellipse cx="503" cy="476" rx="6.4" ry="5.9" fill="#c0bce6" /><ellipse cx="454.6" cy="484.5" rx="7.4" ry="7.4" fill="#c0bce6" /><ellipse cx="467.7" cy="487.5" rx="6.2" ry="5.9" fill="#c0bce6" /><ellipse cx="440.8" cy="492.2" rx="6.1000000000000005" ry="6.300000000000001" fill="#c0bce6" /><ellipse cx="452.3" cy="497.5" rx="6.1000000000000005" ry="5.7" fill="#c0bce6" /><ellipse cx="463.8" cy="499.1" rx="5.9" ry="6.9" fill="#c0bce6" /><ellipse cx="436.5" cy="503.7" rx="3.4" ry="5.9" fill="#c0bce6" /><ellipse cx="442.3" cy="510.6" rx="6.7" ry="5.4" fill="#c0bce6" /><ellipse cx="455.8" cy="508.7" rx="6.4" ry="6.7" fill="#c0bce6" /><ellipse cx="482.5" cy="491" rx="6.7" ry="7.4" fill="#c0bce6" /><ellipse cx="495.6" cy="486.8" rx="6.300000000000001" ry="6.7" fill="#c0bce6" /><ellipse cx="506.8" cy="487.9" rx="4.9" ry="5.9" fill="#c0bce6" /><ellipse cx="474.5" cy="502.5" rx="6.300000000000001" ry="7.1000000000000005" fill="#c0bce6" /><ellipse cx="487.5" cy="503.7" rx="6.5" ry="6.7" fill="#c0bce6" /><ellipse cx="503.3" cy="501.8" rx="7.2" ry="6.9" fill="#c0bce6" /><ellipse cx="491.4" cy="512.2" rx="6.300000000000001" ry="4.9" fill="#c0bce6" /><ellipse cx="504.5" cy="511.4" rx="5.9" ry="5.1000000000000005" fill="#c0bce6" /><ellipse cx="442.7" cy="439.5" rx="6.85" ry="5.1499999999999995" fill="url(#g1m)" /><ellipse cx="456.9" cy="443.1" rx="5.1499999999999995" ry="4.85" fill="url(#g1d)" /><ellipse cx="440.8" cy="451.9" rx="5.85" ry="6.1499999999999995" fill="url(#g1m)" /><ellipse cx="464.2" cy="450.4" rx="6.6499999999999995" ry="6.85" fill="url(#g1m)" /><ellipse cx="450" cy="459.2" rx="6.85" ry="6.55" fill="url(#g1m)" /><ellipse cx="435.8" cy="463" rx="3.35" ry="5.35" fill="url(#g1m)" /><ellipse cx="452.3" cy="470.8" rx="6.1499999999999995" ry="5.55" fill="url(#g1d)" /><ellipse cx="466.5" cy="469.6" rx="7.55" ry="6.85" fill="url(#g1m)" /><ellipse cx="441.5" cy="478" rx="6.55" ry="6.1499999999999995" fill="url(#g1m)" /><ellipse cx="486.8" cy="443.5" rx="6.1499999999999995" ry="4.75" fill="url(#g1m)" /><ellipse cx="481.5" cy="452.5" rx="5.85" ry="5.85" fill="url(#g1m)" /><ellipse cx="488.5" cy="454.5" rx="4.85" ry="5.55" fill="url(#g1m)" /><ellipse cx="497.2" cy="455" rx="4.949999999999999" ry="7.25" fill="url(#g1m)" /><ellipse cx="505.2" cy="448.8" rx="5.35" ry="5.35" fill="url(#g1m)" /><ellipse cx="487.9" cy="464.6" rx="6.1499999999999995" ry="5.35" fill="url(#g1m)" /><ellipse cx="477.7" cy="477.5" rx="6.35" ry="5.35" fill="url(#g1m)" /><ellipse cx="491.4" cy="475.5" rx="6.55" ry="5.85" fill="url(#g1m)" /><ellipse cx="503" cy="476" rx="5.85" ry="5.35" fill="url(#g1m)" /><ellipse cx="454.6" cy="484.5" rx="6.85" ry="6.85" fill="url(#g1m)" /><ellipse cx="467.7" cy="487.5" rx="5.6499999999999995" ry="5.35" fill="url(#g1m)" /><ellipse cx="440.8" cy="492.2" rx="5.55" ry="5.75" fill="url(#g1m)" /><ellipse cx="452.3" cy="497.5" rx="5.55" ry="5.1499999999999995" fill="url(#g1m)" /><ellipse cx="463.8" cy="499.1" rx="5.35" ry="6.35" fill="url(#g1m)" /><ellipse cx="436.5" cy="503.7" rx="2.85" ry="5.35" fill="url(#g1m)" /><ellipse cx="442.3" cy="510.6" rx="6.1499999999999995" ry="4.85" fill="url(#g1m)" /><ellipse cx="455.8" cy="508.7" rx="5.85" ry="6.1499999999999995" fill="url(#g1m)" /><ellipse cx="482.5" cy="491" rx="6.1499999999999995" ry="6.85" fill="url(#g1m)" /><ellipse cx="495.6" cy="486.8" rx="5.75" ry="6.1499999999999995" fill="url(#g1m)" /><ellipse cx="506.8" cy="487.9" rx="4.35" ry="5.35" fill="url(#g1m)" /><ellipse cx="474.5" cy="502.5" rx="5.75" ry="6.55" fill="url(#g1m)" /><ellipse cx="487.5" cy="503.7" rx="5.949999999999999" ry="6.1499999999999995" fill="url(#g1m)" /><ellipse cx="503.3" cy="501.8" rx="6.6499999999999995" ry="6.35" fill="url(#g1m)" /><ellipse cx="491.4" cy="512.2" rx="5.75" ry="4.35" fill="url(#g1m)" /><ellipse cx="504.5" cy="511.4" rx="5.35" ry="4.55" fill="url(#g1m)" /><ellipse cx="500.2" cy="465.8" rx="3.5" ry="3.5" fill="#e2cfd6" /><ellipse cx="453.6" cy="483.2" rx="1.2" ry="0.9" fill="#d8c8ea" /><ellipse cx="470.4" cy="458.1" rx="1.6" ry="1.6" fill="#a9a2d8" /><ellipse cx="438.1" cy="468.1" rx="0.8" ry="0.8" fill="#6a40a8" /><ellipse cx="470" cy="511" rx="3.2" ry="4.2" fill="#5a2a9c" transform="rotate(-30 470 511)"/></g><filter id="n1" x="0" y="0" width="100%" height="100%"><feTurbulence type="fractalNoise" baseFrequency="0.9" numOctaves="2" seed="7"/><feColorMatrix type="matrix" values="0 0 0 0 1  0 0 0 0 1  0 0 0 0 1  1.2 0 0 0 -0.55"/></filter><rect x="435.4" y="440.2" width="75.5" height="75.2" filter="url(#n1)" opacity="0.25"/></svg>
<text x="434.20" y="528.50" font-size="6.9" fill="#111" color="#111" font-weight="bold" textLength="29.3" lengthAdjust="spacingAndGlyphs">Patient 2</text>
<svg x="435.1" y="531.3" width="76.8" height="77.2" viewBox="435.1 531.3 76.8 77.2" preserveAspectRatio="none" overflow="hidden"><defs><filter id="b2" x="-5%" y="-5%" width="110%" height="110%"><feGaussianBlur stdDeviation="0.6"/></filter></defs><rect x="435.1" y="531.3" width="76.8" height="77.2" fill="#f1f2de"/><g filter="url(#b2)"><ellipse cx="470" cy="545" rx="14" ry="9" fill="#e2d8e4" /><ellipse cx="452" cy="586" rx="10" ry="7" fill="#e2d8e4" /><ellipse cx="445" cy="562" rx="7" ry="6" fill="#e2d8e4" /><ellipse cx="497" cy="546" rx="6" ry="6" fill="#e2d8e4" /><ellipse cx="503" cy="539" rx="5" ry="4" fill="#e2d8e4" /><ellipse cx="439.6" cy="536.4" rx="2.7" ry="2.6" fill="#e7cfd2" /><ellipse cx="439.6" cy="536.4" rx="1.2" ry="1.1" fill="#ecdeda" /><ellipse cx="444.2" cy="539.5" rx="2.7" ry="2.6" fill="#e7cfd2" /><ellipse cx="444.2" cy="539.5" rx="1.2" ry="1.1" fill="#ecdeda" /><ellipse cx="448.8" cy="538.3" rx="2.7" ry="2.6" fill="#e7cfd2" /><ellipse cx="448.8" cy="538.3" rx="1.2" ry="1.1" fill="#ecdeda" /><ellipse cx="437.3" cy="542.5" rx="2.7" ry="2.6" fill="#e7cfd2" /><ellipse cx="437.3" cy="542.5" rx="1.2" ry="1.1" fill="#ecdeda" /><ellipse cx="442" cy="543.3" rx="2.7" ry="2.6" fill="#e7cfd2" /><ellipse cx="442" cy="543.3" rx="1.2" ry="1.1" fill="#ecdeda" /><ellipse cx="446.5" cy="543.3" rx="2.7" ry="2.6" fill="#e7cfd2" /><ellipse cx="446.5" cy="543.3" rx="1.2" ry="1.1" fill="#ecdeda" /><ellipse cx="451.2" cy="541.8" rx="2.7" ry="2.6" fill="#e7cfd2" /><ellipse cx="451.2" cy="541.8" rx="1.2" ry="1.1" fill="#ecdeda" /><ellipse cx="438.1" cy="549.4" rx="2.7" ry="2.6" fill="#e7cfd2" /><ellipse cx="438.1" cy="549.4" rx="1.2" ry="1.1" fill="#ecdeda" /><ellipse cx="442.7" cy="548.6" rx="2.7" ry="2.6" fill="#e7cfd2" /><ellipse cx="442.7" cy="548.6" rx="1.2" ry="1.1" fill="#ecdeda" /><ellipse cx="452" cy="546.4" rx="2.7" ry="2.6" fill="#e7cfd2" /><ellipse cx="452" cy="546.4" rx="1.2" ry="1.1" fill="#ecdeda" /><ellipse cx="455" cy="550.2" rx="2.7" ry="2.6" fill="#e7cfd2" /><ellipse cx="455" cy="550.2" rx="1.2" ry="1.1" fill="#ecdeda" /><ellipse cx="447.3" cy="553.3" rx="2.7" ry="2.6" fill="#e7cfd2" /><ellipse cx="447.3" cy="553.3" rx="1.2" ry="1.1" fill="#ecdeda" /><ellipse cx="439.6" cy="554" rx="2.7" ry="2.6" fill="#e7cfd2" /><ellipse cx="439.6" cy="554" rx="1.2" ry="1.1" fill="#ecdeda" /><ellipse cx="452.7" cy="554.8" rx="2.7" ry="2.6" fill="#e7cfd2" /><ellipse cx="452.7" cy="554.8" rx="1.2" ry="1.1" fill="#ecdeda" /><ellipse cx="457.3" cy="557.2" rx="2.7" ry="2.6" fill="#e7cfd2" /><ellipse cx="457.3" cy="557.2" rx="1.2" ry="1.1" fill="#ecdeda" /><ellipse cx="437.3" cy="559.5" rx="2.7" ry="2.6" fill="#e7cfd2" /><ellipse cx="437.3" cy="559.5" rx="1.2" ry="1.1" fill="#ecdeda" /><ellipse cx="458.1" cy="561.8" rx="2.7" ry="2.6" fill="#e7cfd2" /><ellipse cx="458.1" cy="561.8" rx="1.2" ry="1.1" fill="#ecdeda" /><ellipse cx="459.6" cy="566.4" rx="2.7" ry="2.6" fill="#e7cfd2" /><ellipse cx="459.6" cy="566.4" rx="1.2" ry="1.1" fill="#ecdeda" /><ellipse cx="454.2" cy="569.5" rx="2.7" ry="2.6" fill="#e7cfd2" /><ellipse cx="454.2" cy="569.5" rx="1.2" ry="1.1" fill="#ecdeda" /><ellipse cx="488.3" cy="534.5" rx="2.7" ry="2.6" fill="#e7cfd2" /><ellipse cx="488.3" cy="534.5" rx="1.2" ry="1.1" fill="#ecdeda" /><ellipse cx="494.1" cy="537.9" rx="2.7" ry="2.6" fill="#e7cfd2" /><ellipse cx="494.1" cy="537.9" rx="1.2" ry="1.1" fill="#ecdeda" /><ellipse cx="484.8" cy="533" rx="2.7" ry="2.6" fill="#e7cfd2" /><ellipse cx="484.8" cy="533" rx="1.2" ry="1.1" fill="#ecdeda" /><ellipse cx="501.8" cy="554" rx="2.7" ry="2.6" fill="#e7cfd2" /><ellipse cx="501.8" cy="554" rx="1.2" ry="1.1" fill="#ecdeda" /><ellipse cx="505.6" cy="553.3" rx="2.7" ry="2.6" fill="#e7cfd2" /><ellipse cx="505.6" cy="553.3" rx="1.2" ry="1.1" fill="#ecdeda" /><ellipse cx="494.1" cy="557.9" rx="2.7" ry="2.6" fill="#e7cfd2" /><ellipse cx="494.1" cy="557.9" rx="1.2" ry="1.1" fill="#ecdeda" /><ellipse cx="498.7" cy="561.8" rx="2.7" ry="2.6" fill="#e7cfd2" /><ellipse cx="498.7" cy="561.8" rx="1.2" ry="1.1" fill="#ecdeda" /><ellipse cx="504.8" cy="563.3" rx="2.7" ry="2.6" fill="#e7cfd2" /><ellipse cx="504.8" cy="563.3" rx="1.2" ry="1.1" fill="#ecdeda" /><ellipse cx="483.3" cy="563.3" rx="2.7" ry="2.6" fill="#e7cfd2" /><ellipse cx="483.3" cy="563.3" rx="1.2" ry="1.1" fill="#ecdeda" /><ellipse cx="477.1" cy="565.6" rx="2.7" ry="2.6" fill="#e7cfd2" /><ellipse cx="477.1" cy="565.6" rx="1.2" ry="1.1" fill="#ecdeda" /><ellipse cx="494.1" cy="566.4" rx="2.7" ry="2.6" fill="#e7cfd2" /><ellipse cx="494.1" cy="566.4" rx="1.2" ry="1.1" fill="#ecdeda" /><ellipse cx="499.5" cy="568" rx="2.7" ry="2.6" fill="#e7cfd2" /><ellipse cx="499.5" cy="568" rx="1.2" ry="1.1" fill="#ecdeda" /><ellipse cx="506.4" cy="568" rx="2.7" ry="2.6" fill="#e7cfd2" /><ellipse cx="506.4" cy="568" rx="1.2" ry="1.1" fill="#ecdeda" /><ellipse cx="509.5" cy="556.4" rx="2.7" ry="2.6" fill="#e7cfd2" /><ellipse cx="509.5" cy="556.4" rx="1.2" ry="1.1" fill="#ecdeda" /><ellipse cx="503" cy="537.3" rx="2.7" ry="2.6" fill="#e7cfd2" /><ellipse cx="503" cy="537.3" rx="1.2" ry="1.1" fill="#ecdeda" /><ellipse cx="507" cy="536.5" rx="2.7" ry="2.6" fill="#e7cfd2" /><ellipse cx="507" cy="536.5" rx="1.2" ry="1.1" fill="#ecdeda" /><ellipse cx="474.8" cy="579.8" rx="2.7" ry="2.6" fill="#e7cfd2" /><ellipse cx="474.8" cy="579.8" rx="1.2" ry="1.1" fill="#ecdeda" /><ellipse cx="480.2" cy="578.2" rx="2.7" ry="2.6" fill="#e7cfd2" /><ellipse cx="480.2" cy="578.2" rx="1.2" ry="1.1" fill="#ecdeda" /><ellipse cx="475.6" cy="585.2" rx="2.7" ry="2.6" fill="#e7cfd2" /><ellipse cx="475.6" cy="585.2" rx="1.2" ry="1.1" fill="#ecdeda" /><ellipse cx="482.5" cy="582.8" rx="2.7" ry="2.6" fill="#e7cfd2" /><ellipse cx="482.5" cy="582.8" rx="1.2" ry="1.1" fill="#ecdeda" /><ellipse cx="487.2" cy="585.2" rx="2.7" ry="2.6" fill="#e7cfd2" /><ellipse cx="487.2" cy="585.2" rx="1.2" ry="1.1" fill="#ecdeda" /><ellipse cx="492.5" cy="584.4" rx="2.7" ry="2.6" fill="#e7cfd2" /><ellipse cx="492.5" cy="584.4" rx="1.2" ry="1.1" fill="#ecdeda" /><ellipse cx="494.1" cy="579.8" rx="2.7" ry="2.6" fill="#e7cfd2" /><ellipse cx="494.1" cy="579.8" rx="1.2" ry="1.1" fill="#ecdeda" /><ellipse cx="497.9" cy="574.3" rx="2.7" ry="2.6" fill="#e7cfd2" /><ellipse cx="497.9" cy="574.3" rx="1.2" ry="1.1" fill="#ecdeda" /><ellipse cx="493.3" cy="573.7" rx="2.7" ry="2.6" fill="#e7cfd2" /><ellipse cx="493.3" cy="573.7" rx="1.2" ry="1.1" fill="#ecdeda" /><ellipse cx="501.8" cy="579" rx="2.7" ry="2.6" fill="#e7cfd2" /><ellipse cx="501.8" cy="579" rx="1.2" ry="1.1" fill="#ecdeda" /><ellipse cx="504.1" cy="583.6" rx="2.7" ry="2.6" fill="#e7cfd2" /><ellipse cx="504.1" cy="583.6" rx="1.2" ry="1.1" fill="#ecdeda" /><ellipse cx="499.5" cy="585.2" rx="2.7" ry="2.6" fill="#e7cfd2" /><ellipse cx="499.5" cy="585.2" rx="1.2" ry="1.1" fill="#ecdeda" /><ellipse cx="507.2" cy="589" rx="2.7" ry="2.6" fill="#e7cfd2" /><ellipse cx="507.2" cy="589" rx="1.2" ry="1.1" fill="#ecdeda" /><ellipse cx="502.6" cy="592" rx="2.7" ry="2.6" fill="#e7cfd2" /><ellipse cx="502.6" cy="592" rx="1.2" ry="1.1" fill="#ecdeda" /><ellipse cx="497.2" cy="593.6" rx="2.7" ry="2.6" fill="#e7cfd2" /><ellipse cx="497.2" cy="593.6" rx="1.2" ry="1.1" fill="#ecdeda" /><ellipse cx="491" cy="593.6" rx="2.7" ry="2.6" fill="#e7cfd2" /><ellipse cx="491" cy="593.6" rx="1.2" ry="1.1" fill="#ecdeda" /><ellipse cx="485.6" cy="591.3" rx="2.7" ry="2.6" fill="#e7cfd2" /><ellipse cx="485.6" cy="591.3" rx="1.2" ry="1.1" fill="#ecdeda" /><ellipse cx="480.2" cy="591.3" rx="2.7" ry="2.6" fill="#e7cfd2" /><ellipse cx="480.2" cy="591.3" rx="1.2" ry="1.1" fill="#ecdeda" /><ellipse cx="473.3" cy="588.2" rx="2.7" ry="2.6" fill="#e7cfd2" /><ellipse cx="473.3" cy="588.2" rx="1.2" ry="1.1" fill="#ecdeda" /><ellipse cx="491" cy="598.2" rx="2.7" ry="2.6" fill="#e7cfd2" /><ellipse cx="491" cy="598.2" rx="1.2" ry="1.1" fill="#ecdeda" /><ellipse cx="500.2" cy="597.4" rx="2.7" ry="2.6" fill="#e7cfd2" /><ellipse cx="500.2" cy="597.4" rx="1.2" ry="1.1" fill="#ecdeda" /><ellipse cx="505.6" cy="601.3" rx="2.7" ry="2.6" fill="#e7cfd2" /><ellipse cx="505.6" cy="601.3" rx="1.2" ry="1.1" fill="#ecdeda" /><ellipse cx="508.7" cy="598.2" rx="2.7" ry="2.6" fill="#e7cfd2" /><ellipse cx="508.7" cy="598.2" rx="1.2" ry="1.1" fill="#ecdeda" /><ellipse cx="452.7" cy="604.4" rx="2.7" ry="2.6" fill="#e7cfd2" /><ellipse cx="452.7" cy="604.4" rx="1.2" ry="1.1" fill="#ecdeda" /><ellipse cx="443.5" cy="582.8" rx="2.7" ry="2.6" fill="#e7cfd2" /><ellipse cx="443.5" cy="582.8" rx="1.2" ry="1.1" fill="#ecdeda" /><ellipse cx="450.4" cy="579.8" rx="2.7" ry="2.6" fill="#e7cfd2" /><ellipse cx="450.4" cy="579.8" rx="1.2" ry="1.1" fill="#ecdeda" /><ellipse cx="470.4" cy="586" rx="2.7" ry="2.6" fill="#e7cfd2" /><ellipse cx="470.4" cy="586" rx="1.2" ry="1.1" fill="#ecdeda" /><ellipse cx="455" cy="535.2" rx="3.4" ry="3.1999999999999997" fill="#cbc0e0" /><ellipse cx="458.1" cy="540.6" rx="4.6000000000000005" ry="4.6000000000000005" fill="#cbc0e0" /><ellipse cx="466.2" cy="537.5" rx="4.4" ry="4.6000000000000005" fill="#cbc0e0" /><ellipse cx="474.3" cy="535.8" rx="4.2" ry="4.2" fill="#cbc0e0" /><ellipse cx="463.5" cy="547.9" rx="4.4" ry="4.4" fill="#cbc0e0" /><ellipse cx="471.5" cy="547.9" rx="4.9" ry="4.6000000000000005" fill="#cbc0e0" /><ellipse cx="479.5" cy="543.3" rx="4.4" ry="4.2" fill="#cbc0e0" /><ellipse cx="481" cy="551" rx="4.6000000000000005" ry="4.6000000000000005" fill="#cbc0e0" /><ellipse cx="486.4" cy="548.7" rx="3.4" ry="3.6" fill="#cbc0e0" /><ellipse cx="490.2" cy="541.8" rx="4.4" ry="3.1" fill="#cbc0e0" /><ellipse cx="497.2" cy="548.7" rx="4.9" ry="5.0" fill="#cbc0e0" /><ellipse cx="490.6" cy="552.5" rx="3.4" ry="3.4" fill="#cbc0e0" /><ellipse cx="485.6" cy="555.6" rx="3.4" ry="3.1999999999999997" fill="#cbc0e0" /><ellipse cx="464.6" cy="554.8" rx="3.4" ry="3.1999999999999997" fill="#cbc0e0" /><ellipse cx="471.5" cy="554.5" rx="3.6999999999999997" ry="3.6" fill="#cbc0e0" /><ellipse cx="477.9" cy="559.8" rx="3.4" ry="3.4" fill="#cbc0e0" /><ellipse cx="467.3" cy="561.4" rx="4.4" ry="4.2" fill="#cbc0e0" /><ellipse cx="504.5" cy="536.4" rx="3.9" ry="3.9" fill="#cbc0e0" /><ellipse cx="503" cy="542.5" rx="4.4" ry="3.1" fill="#cbc0e0" /><ellipse cx="489.5" cy="565.6" rx="2.4" ry="2.4" fill="#cbc0e0" /><ellipse cx="445.4" cy="559.8" rx="2.9" ry="2.6999999999999997" fill="#cbc0e0" /><ellipse cx="447.7" cy="562.5" rx="2.4" ry="2.4" fill="#cbc0e0" /><ellipse cx="443.1" cy="565.2" rx="3.9" ry="3.9" fill="#cbc0e0" /><ellipse cx="452.3" cy="564.8" rx="3.9" ry="3.9" fill="#cbc0e0" /><ellipse cx="466.5" cy="567.2" rx="3.9" ry="3.9" fill="#cbc0e0" /><ellipse cx="438.5" cy="570.6" rx="3.6999999999999997" ry="3.4" fill="#cbc0e0" /><ellipse cx="445" cy="574" rx="4.1000000000000005" ry="4.3" fill="#cbc0e0" /><ellipse cx="439.2" cy="579" rx="4.1000000000000005" ry="4.3" fill="#cbc0e0" /><ellipse cx="452.3" cy="584" rx="6.2" ry="4.6000000000000005" fill="#cbc0e0" /><ellipse cx="462.3" cy="582.1" rx="4.2" ry="4.2" fill="#cbc0e0" /><ellipse cx="465.8" cy="574.8" rx="4.1000000000000005" ry="4.3" fill="#cbc0e0" /><ellipse cx="438.1" cy="585.9" rx="3.4" ry="3.4" fill="#cbc0e0" /><ellipse cx="440.8" cy="592.8" rx="4.1000000000000005" ry="3.9" fill="#cbc0e0" /><ellipse cx="448.5" cy="592.5" rx="4.2" ry="4.2" fill="#cbc0e0" /><ellipse cx="455.8" cy="592.1" rx="3.9" ry="3.9" fill="#cbc0e0" /><ellipse cx="463.5" cy="592.5" rx="3.4" ry="3.5" fill="#cbc0e0" /><ellipse cx="469.2" cy="592.1" rx="3.4" ry="3.5" fill="#cbc0e0" /><ellipse cx="446.9" cy="600.2" rx="3.4" ry="3.1999999999999997" fill="#cbc0e0" /><ellipse cx="458.1" cy="600.5" rx="4.1000000000000005" ry="3.9" fill="#cbc0e0" /><ellipse cx="436.9" cy="601" rx="3.1999999999999997" ry="3.4" fill="#cbc0e0" /><ellipse cx="461.5" cy="605.5" rx="1.6" ry="1.6" fill="#cbc0e0" /><ellipse cx="467" cy="605.2" rx="3.4" ry="3.1999999999999997" fill="#cbc0e0" /><ellipse cx="472.7" cy="603.6" rx="3.4" ry="3.4" fill="#cbc0e0" /><ellipse cx="473.5" cy="595" rx="2.9" ry="3.4" fill="#cbc0e0" /><ellipse cx="509" cy="580.2" rx="3.1999999999999997" ry="3.4" fill="#cbc0e0" /><ellipse cx="509.8" cy="586.7" rx="2.9" ry="2.9" fill="#cbc0e0" /><ellipse cx="509.8" cy="593.6" rx="2.9" ry="2.9" fill="#cbc0e0" /><ellipse cx="475.2" cy="595.5" rx="3.6" ry="3.6" fill="#cbc0e0" /><ellipse cx="480.2" cy="599.8" rx="3.1999999999999997" ry="3.1999999999999997" fill="#cbc0e0" /><ellipse cx="474.5" cy="604" rx="3.8" ry="3.4" fill="#cbc0e0" /><ellipse cx="488.7" cy="602.5" rx="3.6" ry="3.6" fill="#cbc0e0" /><ellipse cx="495.6" cy="605.2" rx="3.4" ry="3.1999999999999997" fill="#cbc0e0" /><ellipse cx="483.3" cy="605.9" rx="3.4" ry="3.0" fill="#cbc0e0" /><ellipse cx="455" cy="535.2" rx="2.7" ry="2.5" fill="#875cb6" /><ellipse cx="458.1" cy="540.6" rx="3.9000000000000004" ry="3.9000000000000004" fill="#b99cd0" /><ellipse cx="466.2" cy="537.5" rx="3.7" ry="3.9000000000000004" fill="#936bc0" /><ellipse cx="474.3" cy="535.8" rx="3.5" ry="3.5" fill="#996fc4" /><ellipse cx="463.5" cy="547.9" rx="3.7" ry="3.7" fill="#b898cf" /><ellipse cx="471.5" cy="547.9" rx="4.2" ry="3.9000000000000004" fill="#946fc0" /><ellipse cx="479.5" cy="543.3" rx="3.7" ry="3.5" fill="#9773c2" /><ellipse cx="481" cy="551" rx="3.9000000000000004" ry="3.9000000000000004" fill="#936ebe" /><ellipse cx="486.4" cy="548.7" rx="2.7" ry="2.9000000000000004" fill="#a67cc6" /><ellipse cx="490.2" cy="541.8" rx="3.7" ry="2.4000000000000004" fill="#bb81c0" /><ellipse cx="497.2" cy="548.7" rx="4.2" ry="4.3" fill="#b691cc" /><ellipse cx="490.6" cy="552.5" rx="2.7" ry="2.7" fill="#9066bd" /><ellipse cx="485.6" cy="555.6" rx="2.7" ry="2.5" fill="#885eb7" /><ellipse cx="464.6" cy="554.8" rx="2.7" ry="2.5" fill="#8c63ba" /><ellipse cx="471.5" cy="554.5" rx="3.0" ry="2.9000000000000004" fill="#9066bc" /><ellipse cx="477.9" cy="559.8" rx="2.7" ry="2.7" fill="#8d63bb" /><ellipse cx="467.3" cy="561.4" rx="3.7" ry="3.5" fill="#a87dc6" /><ellipse cx="504.5" cy="536.4" rx="3.2" ry="3.2" fill="#bf8ac8" /><ellipse cx="503" cy="542.5" rx="3.7" ry="2.4000000000000004" fill="#b880c4" /><ellipse cx="489.5" cy="565.6" rx="1.7" ry="1.7" fill="#b99cd0" /><ellipse cx="445.4" cy="559.8" rx="2.2" ry="1.9999999999999998" fill="#6944a6" /><ellipse cx="447.7" cy="562.5" rx="1.7" ry="1.7" fill="#6540a4" /><ellipse cx="443.1" cy="565.2" rx="3.2" ry="3.2" fill="#936fc0" /><ellipse cx="452.3" cy="564.8" rx="3.2" ry="3.2" fill="#956fc0" /><ellipse cx="466.5" cy="567.2" rx="3.2" ry="3.2" fill="#a87ec6" /><ellipse cx="438.5" cy="570.6" rx="3.0" ry="2.7" fill="#8e65bc" /><ellipse cx="445" cy="574" rx="3.4000000000000004" ry="3.6" fill="#936bc0" /><ellipse cx="439.2" cy="579" rx="3.4000000000000004" ry="3.6" fill="#9771c2" /><ellipse cx="452.3" cy="584" rx="5.5" ry="3.9000000000000004" fill="#b99dd0" /><ellipse cx="462.3" cy="582.1" rx="3.5" ry="3.5" fill="#8e64bc" /><ellipse cx="465.8" cy="574.8" rx="3.4000000000000004" ry="3.6" fill="#bca0d2" /><ellipse cx="438.1" cy="585.9" rx="2.7" ry="2.7" fill="#9671c2" /><ellipse cx="440.8" cy="592.8" rx="3.4000000000000004" ry="3.2" fill="#8d64bb" /><ellipse cx="448.5" cy="592.5" rx="3.5" ry="3.5" fill="#9066bd" /><ellipse cx="455.8" cy="592.1" rx="3.2" ry="3.2" fill="#8f65bc" /><ellipse cx="463.5" cy="592.5" rx="2.7" ry="2.8000000000000003" fill="#946dc0" /><ellipse cx="469.2" cy="592.1" rx="2.7" ry="2.8000000000000003" fill="#9671c1" /><ellipse cx="446.9" cy="600.2" rx="2.7" ry="2.5" fill="#8860b8" /><ellipse cx="458.1" cy="600.5" rx="3.4000000000000004" ry="3.2" fill="#bca1d2" /><ellipse cx="436.9" cy="601" rx="2.5" ry="2.7" fill="#7562be" /><ellipse cx="461.5" cy="605.5" rx="0.8999999999999999" ry="0.8999999999999999" fill="#472987" /><ellipse cx="467" cy="605.2" rx="2.7" ry="2.5" fill="#956fc0" /><ellipse cx="472.7" cy="603.6" rx="2.7" ry="2.7" fill="#956fc0" /><ellipse cx="473.5" cy="595" rx="2.2" ry="2.7" fill="#a981c8" /><ellipse cx="509" cy="580.2" rx="2.5" ry="2.7" fill="#563a9e" /><ellipse cx="509.8" cy="586.7" rx="2.2" ry="2.2" fill="#936bc0" /><ellipse cx="509.8" cy="593.6" rx="2.2" ry="2.2" fill="#b89cd0" /><ellipse cx="475.2" cy="595.5" rx="2.9000000000000004" ry="2.9000000000000004" fill="#936bc0" /><ellipse cx="480.2" cy="599.8" rx="2.5" ry="2.5" fill="#6548a8" /><ellipse cx="474.5" cy="604" rx="3.1" ry="2.7" fill="#956fc2" /><ellipse cx="488.7" cy="602.5" rx="2.9000000000000004" ry="2.9000000000000004" fill="#9773c4" /><ellipse cx="495.6" cy="605.2" rx="2.7" ry="2.5" fill="#9771c2" /><ellipse cx="483.3" cy="605.9" rx="2.7" ry="2.3000000000000003" fill="#9977c4" /><ellipse cx="507.5" cy="559.5" rx="1" ry="1" fill="#7a6040" /></g></svg>
<text x="434.20" y="623.40" font-size="6.9" fill="#111" color="#111" font-weight="bold" textLength="29.3" lengthAdjust="spacingAndGlyphs">Patient 3</text>
<svg x="434.3" y="626.5" width="77.6" height="78.2" viewBox="434.3 626.5 77.6 78.2" preserveAspectRatio="none" overflow="hidden"><defs><filter id="b3" x="-5%" y="-5%" width="110%" height="110%"><feGaussianBlur stdDeviation="0.5"/></filter><radialGradient id="g3" cx="50%" cy="45%" r="55%"><stop offset="0" stop-color="#b45ec6"/><stop offset="0.75" stop-color="#a850c0"/><stop offset="1" stop-color="#9046b6"/></radialGradient></defs><rect x="434.3" y="626.5" width="77.6" height="78.2" fill="#cfc4e6"/><g filter="url(#b3)"><ellipse cx="446.3" cy="638.3" rx="5" ry="4.5" fill="#e6ccc6" /><ellipse cx="444" cy="652.2" rx="2.7" ry="2.7" fill="#e6ccc6" /><ellipse cx="451" cy="645.2" rx="3" ry="3" fill="#dcd0e0" /><ellipse cx="497" cy="636" rx="10" ry="6" fill="#e6cbc0" /><ellipse cx="509" cy="631" rx="3" ry="3" fill="#eeeaf2" /><ellipse cx="508.5" cy="640" rx="3" ry="3" fill="#e6cbc0" /><ellipse cx="454.5" cy="678.4" rx="2.5" ry="2" fill="#e8c49a" /><ellipse cx="457.8" cy="702.5" rx="2.5" ry="1.5" fill="#e8caa8" /><ellipse cx="505" cy="684.5" rx="3" ry="4" fill="#e8d0c4" /><ellipse cx="503.5" cy="698.8" rx="3.5" ry="3.5" fill="#e8d2c8" /><ellipse cx="485" cy="702.5" rx="2.5" ry="1.5" fill="#e8cab8" /><ellipse cx="439" cy="632.6" rx="5.3999999999999995" ry="5.3999999999999995" fill="#a898d8" /><ellipse cx="450.4" cy="629.4" rx="4.8" ry="4.4" fill="#a898d8" /><ellipse cx="466.8" cy="632.6" rx="6.5" ry="6.5" fill="#a898d8" /><ellipse cx="453.7" cy="637.5" rx="4.1" ry="4.1" fill="#a898d8" /><ellipse cx="475" cy="629.4" rx="2.8" ry="2.8" fill="#a898d8" /><ellipse cx="473.3" cy="643.2" rx="6.5" ry="6.7" fill="#a898d8" /><ellipse cx="487.2" cy="646.5" rx="8.6" ry="8.200000000000001" fill="#a898d8" /><ellipse cx="501.9" cy="647.3" rx="7.3" ry="7.3" fill="#a898d8" /><ellipse cx="460.2" cy="644" rx="3.0999999999999996" ry="3.0999999999999996" fill="#a898d8" /><ellipse cx="438.2" cy="646.5" rx="5.8" ry="6.0" fill="#a898d8" /><ellipse cx="451.2" cy="652.2" rx="4.1" ry="4.1" fill="#a898d8" /><ellipse cx="463.5" cy="655.5" rx="10.100000000000001" ry="10.100000000000001" fill="#a898d8" /><ellipse cx="478.2" cy="657.1" rx="2.8" ry="2.8" fill="#a898d8" /><ellipse cx="495.4" cy="660.4" rx="7.0" ry="7.0" fill="#a898d8" /><ellipse cx="509.3" cy="658.8" rx="4.8" ry="5.8" fill="#a898d8" /><ellipse cx="438.2" cy="658.8" rx="3.3" ry="3.3" fill="#a898d8" /><ellipse cx="446.3" cy="664.5" rx="5.8" ry="5.8" fill="#a898d8" /><ellipse cx="474.1" cy="665.3" rx="8.1" ry="7.8" fill="#a898d8" /><ellipse cx="486.4" cy="669.4" rx="7.0" ry="6.8" fill="#a898d8" /><ellipse cx="498.6" cy="671" rx="3.2" ry="3.2" fill="#a898d8" /><ellipse cx="499.5" cy="675.1" rx="3.0" ry="2.0" fill="#a898d8" /><ellipse cx="510" cy="671.9" rx="3.8" ry="4.8" fill="#a898d8" /><ellipse cx="440.6" cy="671" rx="6.0" ry="6.0" fill="#a898d8" /><ellipse cx="457" cy="671.9" rx="7.3" ry="7.0" fill="#a898d8" /><ellipse cx="446.3" cy="678.4" rx="4.1" ry="3.5999999999999996" fill="#a898d8" /><ellipse cx="448.8" cy="684.9" rx="5.0" ry="4.4" fill="#a898d8" /><ellipse cx="497.8" cy="679.2" rx="3.2" ry="3.2" fill="#a898d8" /><ellipse cx="469.2" cy="680.8" rx="7.0" ry="6.8" fill="#a898d8" /><ellipse cx="486.4" cy="684.1" rx="7.0" ry="6.8" fill="#a898d8" /><ellipse cx="438.2" cy="693.1" rx="5.8" ry="6.0" fill="#a898d8" /><ellipse cx="452.9" cy="694.7" rx="6.5" ry="6.2" fill="#a898d8" /><ellipse cx="470" cy="694.7" rx="6.5" ry="6.2" fill="#a898d8" /><ellipse cx="482.3" cy="693.1" rx="3.8" ry="3.8" fill="#a898d8" /><ellipse cx="490.5" cy="694.7" rx="4.8" ry="4.8" fill="#a898d8" /><ellipse cx="499.5" cy="690.6" rx="5.3999999999999995" ry="5.2" fill="#a898d8" /><ellipse cx="444.7" cy="702.2" rx="4.1" ry="3.3" fill="#a898d8" /><ellipse cx="434.9" cy="680.8" rx="3.4000000000000004" ry="4.8" fill="#a898d8" /><ellipse cx="489.7" cy="702.3" rx="1.8" ry="1.8" fill="#a898d8" /><ellipse cx="439" cy="632.6" rx="4.6" ry="4.6" fill="#6c32a4" /><ellipse cx="450.4" cy="629.4" rx="4" ry="3.6" fill="#6c32a4" /><ellipse cx="466.8" cy="632.6" rx="5.7" ry="5.7" fill="url(#g3)" /><ellipse cx="453.7" cy="637.5" rx="3.3" ry="3.3" fill="#6c32a4" /><ellipse cx="475" cy="629.4" rx="2" ry="2" fill="#4a1c88" /><ellipse cx="473.3" cy="643.2" rx="5.7" ry="5.9" fill="url(#g3)" /><ellipse cx="487.2" cy="646.5" rx="7.8" ry="7.4" fill="url(#g3)" /><ellipse cx="501.9" cy="647.3" rx="6.5" ry="6.5" fill="#a04ec0" /><ellipse cx="460.2" cy="644" rx="2.3" ry="2.3" fill="#4a1c88" /><ellipse cx="438.2" cy="646.5" rx="5" ry="5.2" fill="url(#g3)" /><ellipse cx="451.2" cy="652.2" rx="3.3" ry="3.3" fill="#6c32a4" /><ellipse cx="463.5" cy="655.5" rx="9.3" ry="9.3" fill="url(#g3)" /><ellipse cx="478.2" cy="657.1" rx="2" ry="2" fill="#4a1c88" /><ellipse cx="495.4" cy="660.4" rx="6.2" ry="6.2" fill="url(#g3)" /><ellipse cx="509.3" cy="658.8" rx="4" ry="5" fill="url(#g3)" /><ellipse cx="438.2" cy="658.8" rx="2.5" ry="2.5" fill="#6c32a4" /><ellipse cx="446.3" cy="664.5" rx="5" ry="5" fill="url(#g3)" /><ellipse cx="474.1" cy="665.3" rx="7.3" ry="7.0" fill="url(#g3)" /><ellipse cx="486.4" cy="669.4" rx="6.2" ry="6.0" fill="url(#g3)" /><ellipse cx="498.6" cy="671" rx="2.4" ry="2.4" fill="#6c32a4" /><ellipse cx="499.5" cy="675.1" rx="2.2" ry="1.2" fill="#6c32a4" /><ellipse cx="510" cy="671.9" rx="3" ry="4" fill="#5a34a4" /><ellipse cx="440.6" cy="671" rx="5.2" ry="5.2" fill="url(#g3)" /><ellipse cx="457" cy="671.9" rx="6.5" ry="6.2" fill="url(#g3)" /><ellipse cx="446.3" cy="678.4" rx="3.3" ry="2.8" fill="#6c32a4" /><ellipse cx="448.8" cy="684.9" rx="4.2" ry="3.6" fill="#5a2896" /><ellipse cx="497.8" cy="679.2" rx="2.4" ry="2.4" fill="#5a34a4" /><ellipse cx="469.2" cy="680.8" rx="6.2" ry="6.0" fill="url(#g3)" /><ellipse cx="486.4" cy="684.1" rx="6.2" ry="6.0" fill="url(#g3)" /><ellipse cx="438.2" cy="693.1" rx="5" ry="5.2" fill="url(#g3)" /><ellipse cx="452.9" cy="694.7" rx="5.7" ry="5.4" fill="url(#g3)" /><ellipse cx="470" cy="694.7" rx="5.7" ry="5.4" fill="url(#g3)" /><ellipse cx="482.3" cy="693.1" rx="3" ry="3" fill="#6c32a4" /><ellipse cx="490.5" cy="694.7" rx="4" ry="4" fill="#a04cb8" /><ellipse cx="499.5" cy="690.6" rx="4.6" ry="4.4" fill="url(#g3)" /><ellipse cx="444.7" cy="702.2" rx="3.3" ry="2.5" fill="url(#g3)" /><ellipse cx="434.9" cy="680.8" rx="2.6" ry="4" fill="#c8689a" /><ellipse cx="489.7" cy="702.3" rx="1" ry="1" fill="#4a1c88" /><ellipse cx="447" cy="690" rx="0.9" ry="0.9" fill="#f4f0fa" /><ellipse cx="509" cy="683" rx="0.9" ry="0.9" fill="#f4f0fa" /><ellipse cx="509.7" cy="686.5" rx="0.9" ry="0.9" fill="#f4f0fa" /><ellipse cx="455.6" cy="631" rx="0.9" ry="0.9" fill="#f4f0fa" /><ellipse cx="441" cy="700" rx="0.9" ry="0.9" fill="#f4f0fa" /><ellipse cx="474" cy="652" rx="0.9" ry="0.9" fill="#f4f0fa" /><ellipse cx="468" cy="687" rx="0.9" ry="0.9" fill="#f4f0fa" /></g><filter id="n3" x="0" y="0" width="100%" height="100%"><feTurbulence type="fractalNoise" baseFrequency="0.9" numOctaves="2" seed="11"/><feColorMatrix type="matrix" values="0 0 0 0 1  0 0 0 0 1  0 0 0 0 1  1.2 0 0 0 -0.55"/></filter><rect x="434.3" y="626.5" width="77.6" height="78.2" filter="url(#n3)" opacity="0.22"/></svg>
</svg>
<div class="frame"></div>
</body></html>
